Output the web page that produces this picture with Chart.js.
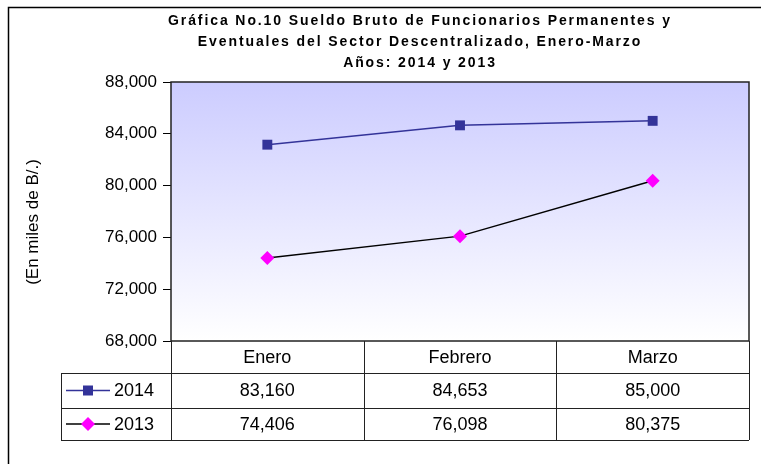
<!DOCTYPE html>
<html>
<head>
<meta charset="utf-8">
<script src="https://cdn.jsdelivr.net/npm/chart.js@4/dist/chart.umd.min.js"></script>
<style>
    html, body { margin: 0; padding: 0; background: #fff; }
    #wrap { width: 761px; height: 464px; position: relative; }
</style>
</head>
<body>
<div id="wrap"><canvas id="chart" width="761" height="464"></canvas></div>
<script>
'use strict';

const months = ['Enero', 'Febrero', 'Marzo'];
const seriesNames = ['2014', '2013'];
const values2014 = [83160, 84653, 85000];
const values2013 = [74406, 76098, 80375];
const titleLines = [
    'Gráfica No.10 Sueldo Bruto de Funcionarios Permanentes y',
    'Eventuales del Sector Descentralizado, Enero-Marzo',
    'Años: 2014 y 2013'
];
const yTitle = '(En miles de B/.)';
const yMin = 68000;
const yMax = 88000;
const yStep = 4000;

const fontFamily = '"Liberation Sans", Arial, sans-serif';
const fmt = v => v.toLocaleString('en-US');

// frame, gradient, title, y title and data table
const decorPlugin = {
    id: 'decor',
    beforeDraw(chart) {
        const ctx = chart.ctx;
        const a = chart.chartArea;
        ctx.save();
        ctx.fillStyle = '#fff';
        ctx.fillRect(0, 0, chart.width, chart.height);
        // outer frame
        ctx.strokeStyle = '#000';
        ctx.lineWidth = 1.5;
        ctx.strokeRect(8.5, 7.5, 800, 500);
        // plot background
        const g = ctx.createLinearGradient(0, a.top, 0, a.bottom);
        g.addColorStop(0, '#ccccff');
        g.addColorStop(1, '#ffffff');
        ctx.fillStyle = g;
        ctx.fillRect(a.left, a.top, a.right - a.left, a.bottom - a.top);
        ctx.restore();
    },
    afterDraw(chart) {
        const ctx = chart.ctx;
        const a = chart.chartArea;
        const x = chart.scales.x;
        ctx.save();
        // plot border
        ctx.strokeStyle = '#222';
        ctx.lineWidth = 1.5;
        ctx.strokeRect(a.left, a.top, a.right - a.left, a.bottom - a.top);

        // title
        ctx.fillStyle = '#000';
        ctx.font = 'bold 14px ' + fontFamily;
        ctx.letterSpacing = '1.9px';
        ctx.textAlign = 'center';
        ctx.textBaseline = 'middle';
        titleLines.forEach((t, i) => ctx.fillText(t, 420, 21 + i * 21));
        ctx.letterSpacing = '0px';

        // y axis title
        ctx.save();
        ctx.translate(33, 222);
        ctx.rotate(-Math.PI / 2);
        ctx.font = '17px ' + fontFamily;
        ctx.fillText(yTitle, 0, 0);
        ctx.restore();

        // data table
        const rowTop = [a.bottom, 373, 408];
        const rowBottom = 440;
        const tableLeft = 61;
        const colW = (a.right - a.left) / months.length;
        ctx.strokeStyle = '#222';
        ctx.lineWidth = 1;
        ctx.beginPath();
        [373, 408, rowBottom].forEach(y => {
            ctx.moveTo(tableLeft, y + 0.5);
            ctx.lineTo(a.right, y + 0.5);
        });
        ctx.moveTo(tableLeft + 0.5, 373);
        ctx.lineTo(tableLeft + 0.5, rowBottom);
        for (let i = 0; i <= months.length; i++) {
            const cx = Math.round(a.left + i * colW) + 0.5;
            ctx.moveTo(cx, a.bottom);
            ctx.lineTo(cx, rowBottom);
        }
        ctx.stroke();

        ctx.font = '18px ' + fontFamily;
        ctx.fillStyle = '#000';
        const rows = [values2014, values2013];
        months.forEach((m, i) => {
            const cx = x.getPixelForValue(i);
            ctx.fillText(m, cx, (rowTop[0] + rowTop[1]) / 2 + 1);
            rows.forEach((r, j) => {
                const y0 = rowTop[j + 1];
                const y1 = j + 2 < rowTop.length ? rowTop[j + 2] : rowBottom;
                ctx.fillText(fmt(r[i]), cx, (y0 + y1) / 2 + 1);
            });
        });

        // legend keys inside table
        chart.data.datasets.forEach((ds, j) => {
            const y0 = rowTop[j + 1];
            const y1 = j + 2 < rowTop.length ? rowTop[j + 2] : rowBottom;
            const cy = (y0 + y1) / 2;
            ctx.strokeStyle = ds.borderColor;
            ctx.lineWidth = 1.5;
            ctx.beginPath();
            ctx.moveTo(66, cy);
            ctx.lineTo(110, cy);
            ctx.stroke();
            ctx.fillStyle = ds.pointBackgroundColor;
            ctx.beginPath();
            if (ds.pointStyle === 'rect') {
                ctx.rect(83, cy - 5, 10, 10);
            } else {
                ctx.moveTo(88, cy - 7);
                ctx.lineTo(95, cy);
                ctx.lineTo(88, cy + 7);
                ctx.lineTo(81, cy);
                ctx.closePath();
            }
            ctx.fill();
            ctx.fillStyle = '#000';
            ctx.textAlign = 'left';
            ctx.fillText(seriesNames[j], 114, cy + 1);
            ctx.textAlign = 'center';
        });
        ctx.restore();
    }
};

new Chart(document.getElementById('chart'), {
    type: 'line',
    data: {
        labels: months,
        datasets: [{
            label: seriesNames[0],
            data: values2014,
            borderColor: '#333399',
            borderWidth: 1.5,
            pointStyle: 'rect',
            pointRadius: 7,
            pointBackgroundColor: '#333399',
            pointBorderColor: '#333399',
            pointBorderWidth: 0,
            tension: 0
        }, {
            label: seriesNames[1],
            data: values2013,
            borderColor: '#000000',
            borderWidth: 1.5,
            pointStyle: 'rectRot',
            pointRadius: 7,
            pointBackgroundColor: '#ff00ff',
            pointBorderColor: '#ff00ff',
            pointBorderWidth: 0,
            tension: 0
        }]
    },
    options: {
        responsive: false,
        animation: false,
        layout: { padding: { left: 0, top: 82, right: 12, bottom: 123 } },
        plugins: {
            legend: { display: false },
            title: { display: false },
            tooltip: { enabled: false }
        },
        scales: {
            x: {
                display: false,
                offset: true
            },
            y: {
                min: yMin,
                max: yMax,
                afterFit: scale => { scale.width = 171; },
                border: { display: false },
                grid: {
                    drawOnChartArea: false,
                    drawTicks: true,
                    tickLength: 8,
                    color: '#000'
                },
                ticks: {
                    stepSize: yStep,
                    padding: 6,
                    color: '#000',
                    font: { family: fontFamily, size: 17 },
                    callback: v => fmt(v)
                }
            }
        }
    },
    plugins: [decorPlugin]
});
</script>
</body>
</html>
